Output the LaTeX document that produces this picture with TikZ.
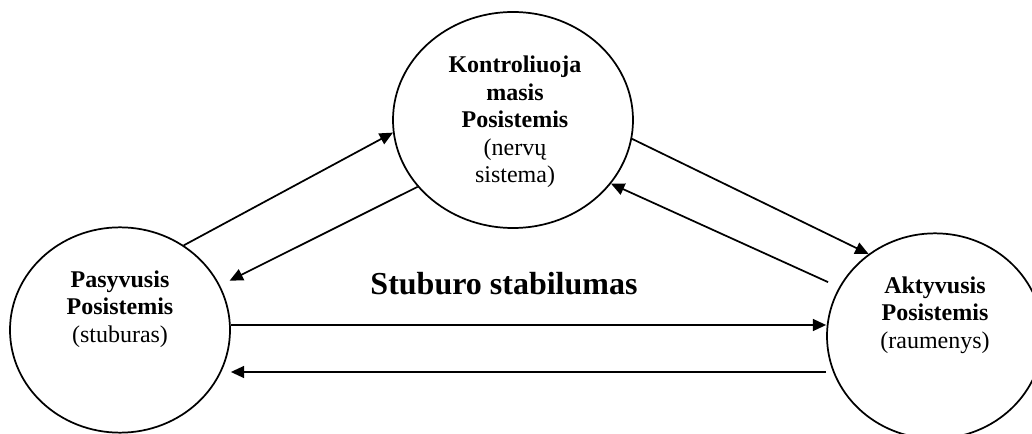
\documentclass[tikz,border=0pt]{standalone}
\usepackage{fontspec}
\setmainfont{Liberation Serif}
\usetikzlibrary{shapes.geometric, arrows.meta}

\begin{document}
\begin{tikzpicture}[
                x=0.75pt, y=-0.75pt,
                system/.style={
                        draw, line width=1.3pt, ellipse,
                        inner sep=0pt
                    },
                caption/.style={
                        align=center,
                        font=\fontsize{18}{20.7}\selectfont
                    },
                flow/.style={draw, line width=1.3pt, -{Triangle[length=10pt, width=9pt]}}
            ]

            \useasboundingbox (0, 0) rectangle (1032, 434);

            % the three subsystems
            \node[system, minimum width=180pt, minimum height=162pt] (kon) at (513, 120) {};
            \node[system, minimum width=165pt, minimum height=154pt] (pas) at (120, 330) {};
            \node[system, minimum width=162pt, minimum height=154pt] (akt) at (935, 336) {};

            \node[caption] (kon-text) at (515, 122)
                {\textbf{Kontroliuoja}\\\textbf{masis}\\\textbf{Posistemis}\\(nervų\\sistema)};
            \node[caption] (pas-text) at (120, 309)
                {\textbf{Pasyvusis}\\\textbf{Posistemis}\\(stuburas)};
            \node[caption] (akt-text) at (935, 315)
                {\textbf{Aktyvusis}\\\textbf{Posistemis}\\(raumenys)};

            \node[anchor=base, font=\fontsize{24}{28}\selectfont\bfseries] (title) at (504, 295)
                {Stuburo stabilumas};

            % diagonal links
            \draw[flow] (pas.53) -- (kon.186);
            \draw[flow, shorten >=8pt] (kon.215) -- (pas.24);
            \draw[flow] (kon.-9) -- (akt.129);
            \draw[flow, shorten <=9pt] (akt.153) -- (kon.-33);

            % horizontal links
            \draw[flow] ([yshift=8.25pt]akt.west -| pas.east) -- ([yshift=8.25pt]akt.west);
            \draw[flow] ([yshift=-27pt]akt.west) -- ([yshift=-27pt]akt.west -| pas.east);

        \end{tikzpicture}
\end{document}
